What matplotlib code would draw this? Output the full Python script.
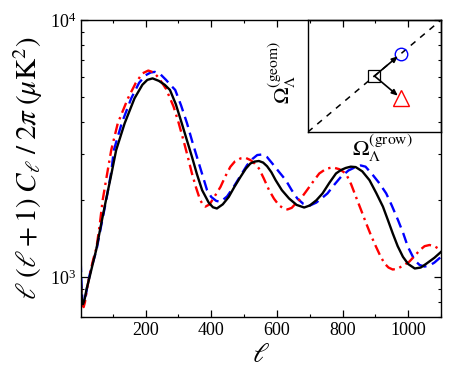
import matplotlib
matplotlib.use("Agg")
import matplotlib.pyplot as plt
from matplotlib.ticker import FixedLocator, MultipleLocator, NullFormatter

plt.rcParams['font.family'] = ['Liberation Serif', 'DejaVu Serif']
plt.rcParams['mathtext.fontset'] = 'stix'

# black solid curve
ell_k = [2, 5, 9, 14, 20, 29, 39, 49, 64, 79, 95, 110, 136, 166, 190, 205, 221,
         240, 258, 274, 292, 310, 325, 341, 356, 372, 392, 405, 417, 435, 453,
         470, 489, 505, 519, 532, 545, 558, 570, 583, 596, 615, 637, 660, 683,
         700, 720, 739, 760, 780, 795, 810, 825, 840, 860, 882, 903, 923, 938,
         953, 968, 984, 1000, 1020, 1038, 1056, 1080, 1100]
cl_k = [1000, 830, 785, 820, 900, 1000, 1130, 1273, 1600, 1995, 2500, 3118,
        3968, 4960, 5600, 5850, 5930, 5800, 5600, 5347, 4700, 3968, 3430, 2940,
        2520, 2180, 1950, 1870, 1850, 1920, 2050, 2240, 2455, 2640, 2767, 2815,
        2830, 2790, 2700, 2560, 2384, 2180, 2023, 1910, 1866, 1900, 1990, 2117,
        2330, 2531, 2610, 2660, 2690, 2680, 2580, 2384, 2120, 1881, 1670, 1479,
        1320, 1200, 1125, 1081, 1090, 1130, 1190, 1254]

# blue dashed curve
ell_b = [2, 5, 8, 11, 16, 22, 30, 40, 50, 65, 80, 95, 103, 127, 156, 180, 200,
         215, 228, 245, 262, 275, 290, 308, 326, 341, 356, 372, 387, 400, 415,
         428, 448, 468, 489, 509, 525, 540, 555, 570, 586, 605, 627, 645, 662,
         680, 698, 720, 737, 754, 775, 795, 818, 841, 855, 870, 892, 912, 933,
         950, 969, 985, 999, 1020, 1035, 1050, 1065, 1080, 1100]
cl_b = [1150, 900, 800, 790, 830, 920, 1030, 1150, 1273, 1600, 2000, 2560,
        3118, 3968, 4960, 5700, 6100, 6250, 6285, 6150, 5850, 5600, 5347, 4650,
        3968, 3400, 2940, 2520, 2180, 2050, 1980, 1963, 2060, 2244, 2480, 2728,
        2880, 2985, 3000, 2930, 2767, 2580, 2384, 2180, 2023, 1930, 1893, 1950,
        2030, 2117, 2290, 2455, 2600, 2686, 2720, 2690, 2498, 2320, 2117, 1900,
        1667, 1480, 1313, 1161, 1115, 1100, 1110, 1140, 1200]

# red dash-dot curve
ell_r = [2, 5, 8, 11, 15, 21, 30, 40, 50, 60, 69, 82, 95, 115, 146, 170, 190,
         208, 225, 240, 262, 285, 300, 315, 328, 341, 354, 366, 374, 382, 395,
         410, 428, 443, 458, 472, 489, 505, 520, 533, 545, 560, 576, 591, 606,
         620, 632, 645, 660, 675, 688, 709, 729, 750, 770, 790, 810, 826, 841,
         856, 872, 887, 902, 915, 928, 940, 953, 968, 985, 1003, 1020, 1035,
         1050, 1065, 1080, 1100]
cl_r = [960, 820, 775, 765, 800, 900, 1030, 1170, 1300, 1600, 1995, 2500, 3118,
        3968, 4960, 5700, 6200, 6360, 6250, 5950, 5400, 4606, 4000, 3411, 2950,
        2531, 2220, 1995, 1920, 1881, 1920, 2060, 2244, 2470, 2686, 2820, 2896,
        2910, 2850, 2760, 2649, 2420, 2180, 2020, 1905, 1850, 1834, 1860, 1950,
        2040, 2148, 2340, 2531, 2640, 2673, 2630, 2531, 2300, 2050, 1830, 1619,
        1450, 1313, 1210, 1130, 1090, 1071, 1080, 1110, 1148, 1210, 1273, 1320,
        1334, 1320, 1273]

# inset: (grow, geom) points
fid_pt = (0.5, 0.5)
geom_pt = (0.7, 0.7)
grow_pt = (0.7, 0.3)

fig = plt.figure(figsize=(4.63, 3.72), dpi=100)
ax = fig.add_axes([0.1743, 0.1478, 0.7782, 0.7984])

ax.plot(ell_k, cl_k, color='black', lw=1.7, zorder=3)
ax.plot(ell_b, cl_b, color='#0000ff', lw=1.7, dashes=(4.5, 2.5), zorder=2)
ax.plot(ell_r, cl_r, color='#ff0000', lw=1.7, dashes=(4.5, 2, 1, 2), zorder=2)

ax.set_yscale('log')
ax.set_xlim(2, 1100)
ax.set_ylim(700, 10000)
ax.xaxis.set_major_locator(FixedLocator([200, 400, 600, 800, 1000]))
ax.xaxis.set_minor_locator(MultipleLocator(100))
ax.yaxis.set_minor_formatter(NullFormatter())
ax.tick_params(which='both', direction='in', top=True, right=True, labelsize=13)
ax.tick_params(which='major', length=5, width=0.9)
ax.tick_params(which='minor', length=2.5, width=0.8)
for s in ax.spines.values():
    s.set_linewidth(1.0)

ax.set_xlabel(r'$\ell$', fontsize=20, labelpad=3)
ax.set_ylabel(r'$\ell\;(\ell+1)\;C_\ell\;/\;2\pi\;(\mu\mathrm{K}^2)$', fontsize=21,
              labelpad=3)

# inset
ax_in = fig.add_axes([0.665, 0.6452, 0.2875, 0.301])
ax_in.set_facecolor('none')
ax_in.set_xlim(0, 1)
ax_in.set_ylim(0, 1)
ax_in.set_xticks([])
ax_in.set_yticks([])
for s in ax_in.spines.values():
    s.set_linewidth(1.0)

ax_in.plot([0, 1], [0, 1], color='black', lw=1.1, dashes=(4, 4))
for pt in (geom_pt, grow_pt):
    ax_in.annotate('', xy=pt, xytext=fid_pt,
                   arrowprops=dict(arrowstyle='-|>,head_length=0.35,head_width=0.15',
                                   color='black', lw=1.2, shrinkA=0, shrinkB=3))
ax_in.plot(*fid_pt, marker='s', ms=9, mfc='none', mec='black', mew=0.9)
ax_in.plot(*geom_pt, marker='o', ms=9, mfc='none', mec='#0000ff', mew=1.0)
ax_in.plot(*grow_pt, marker='^', ms=11, mfc='none', mec='#ff0000', mew=1.0)

ax_in.text(0.56, -0.01, r'$\Omega_\Lambda^{(\mathrm{grow})}$', transform=ax_in.transAxes,
           ha='center', va='top', fontsize=16)
ax_in.text(-0.19, 0.53, r'$\Omega_\Lambda^{(\mathrm{geom})}$', transform=ax_in.transAxes,
           ha='center', va='center', rotation=90, fontsize=16)

fig.savefig('out.png', dpi=100)
